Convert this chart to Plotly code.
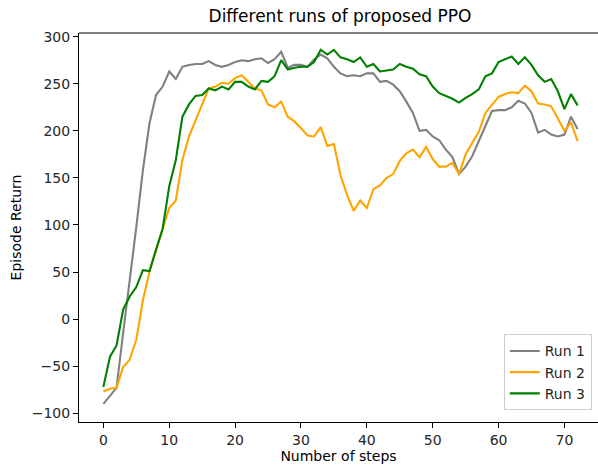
import plotly.graph_objects as go

steps = list(range(73))

run1 = [-90, -82, -73, -15, 40, 98, 158, 208, 238, 247, 263, 255, 268, 270, 271, 271, 274, 270, 268, 270,
        273, 275, 274, 276, 277, 272, 276, 284, 267, 270, 270, 268, 276, 281, 277, 268, 261, 258, 259, 258,
        261, 261, 252, 253, 249, 242, 231, 219, 200, 201, 194, 190, 180, 172, 154, 162, 173, 189, 206, 221,
        222, 222, 225, 232, 229, 219, 198, 201, 196, 194, 196, 215, 202]

run2 = [-77, -74, -73, -51, -43, -22, 20, 50, 73, 96, 118, 126, 169, 194, 212, 228, 245, 247, 251, 250,
        256, 259, 252, 245, 243, 228, 225, 231, 215, 210, 203, 195, 194, 204, 184, 186, 153, 132, 115, 126,
        118, 138, 142, 150, 154, 168, 176, 180, 172, 183, 170, 162, 162, 166, 154, 175, 187, 199, 219, 228,
        236, 239, 241, 240, 248, 242, 229, 228, 226, 213, 200, 209, 189]

run3 = [-72, -40, -28, 10, 24, 34, 52, 51, 74, 96, 141, 169, 215, 228, 237, 238, 245, 243, 247, 244,
        252, 252, 247, 244, 253, 252, 258, 275, 265, 267, 268, 268, 273, 286, 281, 286, 278, 276, 273, 278,
        268, 271, 263, 264, 265, 271, 268, 266, 260, 258, 247, 240, 237, 234, 230, 235, 239, 244, 258, 261,
        273, 276, 279, 271, 278, 270, 259, 252, 255, 242, 223, 239, 227]

names = ["Run 1", "Run 2", "Run 3"]
colors = ["#808080", "#FFA500", "#008000"]
x_ticks = [0, 10, 20, 30, 40, 50, 60, 70]
y_ticks = [-100, -50, 0, 50, 100, 150, 200, 250, 300]

fig = go.Figure()
for name, ys, c in zip(names, [run1, run2, run3], colors):
    fig.add_trace(go.Scatter(x=steps, y=ys, mode="lines", name=name,
                             line=dict(color=c, width=2.1)))

FONT = "DejaVu Sans"
fig.update_layout(
    width=598, height=468,
    margin=dict(l=79, r=0, t=33, b=46),
    paper_bgcolor="white", plot_bgcolor="white",
    font=dict(family=FONT, size=14, color="#262626"),
    title=dict(text="Different runs of proposed PPO", x=(79 + 601) / 2 / 598, xanchor="center",
               xref="container", y=1 - 16 / 468, yanchor="middle",
               font=dict(family=FONT, size=17, color="black")),
    showlegend=True,
    legend=dict(x=0.988, y=0.03, xanchor="right", yanchor="bottom",
                bgcolor="rgba(255,255,255,0.8)", bordercolor="#cccccc", borderwidth=1,
                font=dict(family=FONT, size=14, color="#262626"),
                itemwidth=30),
)
fig.update_xaxes(range=[-3.7, 75.1], tickvals=x_ticks, ticks="outside", ticklen=5, tickwidth=1.1,
                 tickcolor="black", showline=True, linecolor="black", linewidth=1.1, mirror=False,
                 showgrid=False, zeroline=False, tickfont=dict(size=14, color="#262626"),
                 title=dict(text="Number of steps", font=dict(family=FONT, size=14, color="black"), standoff=4))
fig.update_yaxes(range=[-109.3, 303.9], tickvals=y_ticks, ticks="outside", ticklen=5, tickwidth=1.1,
                 tickcolor="black", showline=True, linecolor="black", linewidth=1.1, mirror=False,
                 showgrid=False, zeroline=False, tickfont=dict(size=14, color="#262626"),
                 title=dict(text="Episode Return", font=dict(family=FONT, size=14, color="black"), standoff=6))
fig.add_shape(type="line", xref="paper", yref="paper", x0=0, x1=1, y0=1, y1=1,
              line=dict(color="black", width=1.1))

fig.write_html("out.html")
